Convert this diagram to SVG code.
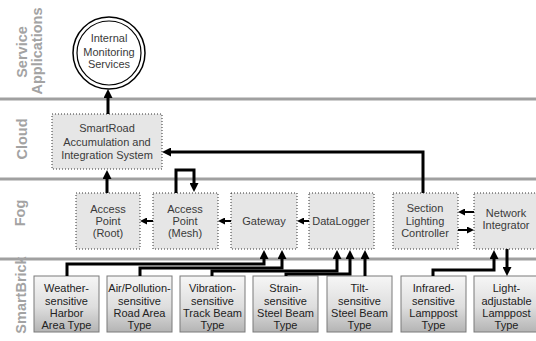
<svg xmlns="http://www.w3.org/2000/svg" width="536" height="341" viewBox="0 0 536 341">
  <defs>
    <style>
      .lane { fill: #a3a3a3; font-family: "Liberation Sans", Arial, sans-serif; font-weight: bold; font-size: 14.5px; text-anchor: middle; }
      .sep { stroke: #a0a0a0; stroke-width: 3; }
      .fog { fill: #e6e6e6; stroke: #333; stroke-width: 1; stroke-dasharray: 1 2; }
      .brick { fill: url(#brickFill); stroke: #7a7a7a; stroke-width: 1; }
      .t { font-family: "Liberation Sans", Arial, sans-serif; font-size: 11px; text-anchor: middle; fill: #3a3a3a; }
      .tb { font-family: "Liberation Sans", Arial, sans-serif; font-size: 11px; text-anchor: middle; fill: #222; }
      .link { fill: none; stroke: #000; stroke-width: 3; stroke-linejoin: miter; }
      .big { marker-end: url(#headBig); }
      .thin { fill: none; stroke: #000; stroke-width: 2; marker-end: url(#headSmall); }
    </style>
    <linearGradient id="brickFill" x1="0" y1="0" x2="0" y2="1">
      <stop offset="0" stop-color="#f6f6f6"/>
      <stop offset="0.55" stop-color="#dedede"/>
      <stop offset="1" stop-color="#b4b4b4"/>
    </linearGradient>
    <marker id="headBig" viewBox="0 0 9 9" markerWidth="9" markerHeight="9" refX="4" refY="4.5" orient="auto" markerUnits="userSpaceOnUse">
      <path d="M0,0 L9,4.5 L0,9 z" fill="#000"/>
    </marker>
    <marker id="headSmall" viewBox="0 0 7 7" markerWidth="7" markerHeight="7" refX="3" refY="3.5" orient="auto" markerUnits="userSpaceOnUse">
      <path d="M0,0 L7,3.5 L0,7 z" fill="#000"/>
    </marker>
  </defs>

  <rect width="536" height="341" fill="#fff"/>

  <!-- layer separators -->
  <g id="layers">
    <line class="sep" x1="0" y1="99" x2="536" y2="99"/>
    <line class="sep" x1="0" y1="179" x2="536" y2="179"/>
    <line class="sep" x1="0" y1="259" x2="536" y2="259"/>
  </g>

  <!-- layer titles -->
  <g id="lane-labels">
    <text class="lane" transform="translate(27,52) rotate(-90)">Service</text>
    <text class="lane" transform="translate(42,51) rotate(-90)">Applications</text>
    <text class="lane" transform="translate(27,139) rotate(-90)">Cloud</text>
    <text class="lane" transform="translate(25,213) rotate(-90)">Fog</text>
    <text class="lane" transform="translate(26,295) rotate(-90)">SmartBrick</text>
  </g>

  <!-- service application -->
  <g id="internal-monitoring">
    <circle cx="109" cy="53" r="36" fill="#fff" stroke="#000" stroke-width="1.5"/>
    <circle cx="109" cy="53" r="32" fill="#fff" stroke="#000" stroke-width="1.2"/>
    <text class="t" x="109" y="42">Internal</text>
    <text class="t" x="109" y="56">Monitoring</text>
    <text class="t" x="109" y="68">Services</text>
  </g>

  <!-- cloud -->
  <g id="smartroad-system">
    <rect class="fog" x="52" y="114" width="110" height="55"/>
    <text class="t" x="107" y="132">SmartRoad</text>
    <text class="t" x="107" y="146">Accumulation and</text>
    <text class="t" x="107" y="159">Integration System</text>
  </g>

  <!-- fog -->
  <g id="ap-root">
    <rect class="fog" x="76" y="193" width="64" height="56"/>
    <text class="t" x="108" y="213">Access</text>
    <text class="t" x="108" y="225">Point</text>
    <text class="t" x="108" y="237">(Root)</text>
  </g>
  <g id="ap-mesh">
    <rect class="fog" x="153" y="193" width="65" height="56"/>
    <text class="t" x="185" y="213">Access</text>
    <text class="t" x="185" y="225">Point</text>
    <text class="t" x="185" y="237">(Mesh)</text>
  </g>
  <g id="gateway">
    <rect class="fog" x="231" y="193" width="66" height="56"/>
    <text class="t" x="264" y="225">Gateway</text>
  </g>
  <g id="datalogger">
    <rect class="fog" x="309" y="193" width="65" height="56"/>
    <text class="t" x="341" y="225">DataLogger</text>
  </g>
  <g id="lighting-controller">
    <rect class="fog" x="393" y="193" width="65" height="56"/>
    <text class="t" x="425" y="212">Section</text>
    <text class="t" x="425" y="225">Lighting</text>
    <text class="t" x="425" y="237">Controller</text>
  </g>
  <g id="network-integrator">
    <rect class="fog" x="474" y="193" width="65" height="56"/>
    <text class="t" x="506" y="217">Network</text>
    <text class="t" x="506" y="229">Integrator</text>
  </g>

  <!-- smartbrick -->
  <g id="brick-weather">
    <rect class="brick" x="34" y="276" width="65" height="56"/>
    <text class="tb" x="66.5" y="292">Weather-</text>
    <text class="tb" x="66.5" y="305">sensitive</text>
    <text class="tb" x="66.5" y="317">Harbor</text>
    <text class="tb" x="66.5" y="329">Area Type</text>
  </g>
  <g id="brick-air">
    <rect class="brick" x="107" y="276" width="65" height="56"/>
    <text class="tb" x="139.5" y="292">Air/Pollution-</text>
    <text class="tb" x="139.5" y="305">sensitive</text>
    <text class="tb" x="139.5" y="317">Road Area</text>
    <text class="tb" x="139.5" y="329">Type</text>
  </g>
  <g id="brick-vibration">
    <rect class="brick" x="180" y="276" width="65" height="56"/>
    <text class="tb" x="212.5" y="292">Vibration-</text>
    <text class="tb" x="212.5" y="305">sensitive</text>
    <text class="tb" x="212.5" y="317">Track Beam</text>
    <text class="tb" x="212.5" y="329">Type</text>
  </g>
  <g id="brick-strain">
    <rect class="brick" x="253" y="276" width="65" height="56"/>
    <text class="tb" x="285.5" y="292">Strain-</text>
    <text class="tb" x="285.5" y="305">sensitive</text>
    <text class="tb" x="285.5" y="317">Steel Beam</text>
    <text class="tb" x="285.5" y="329">Type</text>
  </g>
  <g id="brick-tilt">
    <rect class="brick" x="327" y="276" width="65" height="56"/>
    <text class="tb" x="359.5" y="292">Tilt-</text>
    <text class="tb" x="359.5" y="305">sensitive</text>
    <text class="tb" x="359.5" y="317">Steel Beam</text>
    <text class="tb" x="359.5" y="329">Type</text>
  </g>
  <g id="brick-infrared">
    <rect class="brick" x="401" y="276" width="65" height="56"/>
    <text class="tb" x="433.5" y="292">Infrared-</text>
    <text class="tb" x="433.5" y="305">sensitive</text>
    <text class="tb" x="433.5" y="317">Lamppost</text>
    <text class="tb" x="433.5" y="329">Type</text>
  </g>
  <g id="brick-light">
    <rect class="brick" x="474" y="276" width="65" height="56"/>
    <text class="tb" x="506.5" y="292">Light-</text>
    <text class="tb" x="506.5" y="305">adjustable</text>
    <text class="tb" x="506.5" y="317">Lamppost</text>
    <text class="tb" x="506.5" y="329">Type</text>
  </g>

  <!-- connectors -->
  <g id="connectors">
    <path class="link big" d="M108,114 V94"/>
    <path class="link big" d="M107,193 V175"/>
    <path class="link big" d="M423,193 V152 H167"/>
    <path class="link big" d="M176,193 V170 H194 V187"/>
    <path class="thin" d="M153,221 H144"/>
    <path class="thin" d="M231,221 H222"/>
    <path class="thin" d="M309,221 H301"/>
    <path class="thin" d="M474,212 H462"/>
    <path class="thin" d="M458,230 H470"/>
    <path class="link big" d="M67,276 V264 H264 V255"/>
    <path class="link big" d="M140,276 V268 H282 V255"/>
    <path class="link big" d="M212,276 V271 H337 V255"/>
    <path class="link big" d="M286,276 V274 H350 V255"/>
    <path class="link big" d="M365,276 V255"/>
    <path class="link big" d="M433,276 V270 H494 V255"/>
    <path class="link big" d="M507,249 V271"/>
  </g>
</svg>
